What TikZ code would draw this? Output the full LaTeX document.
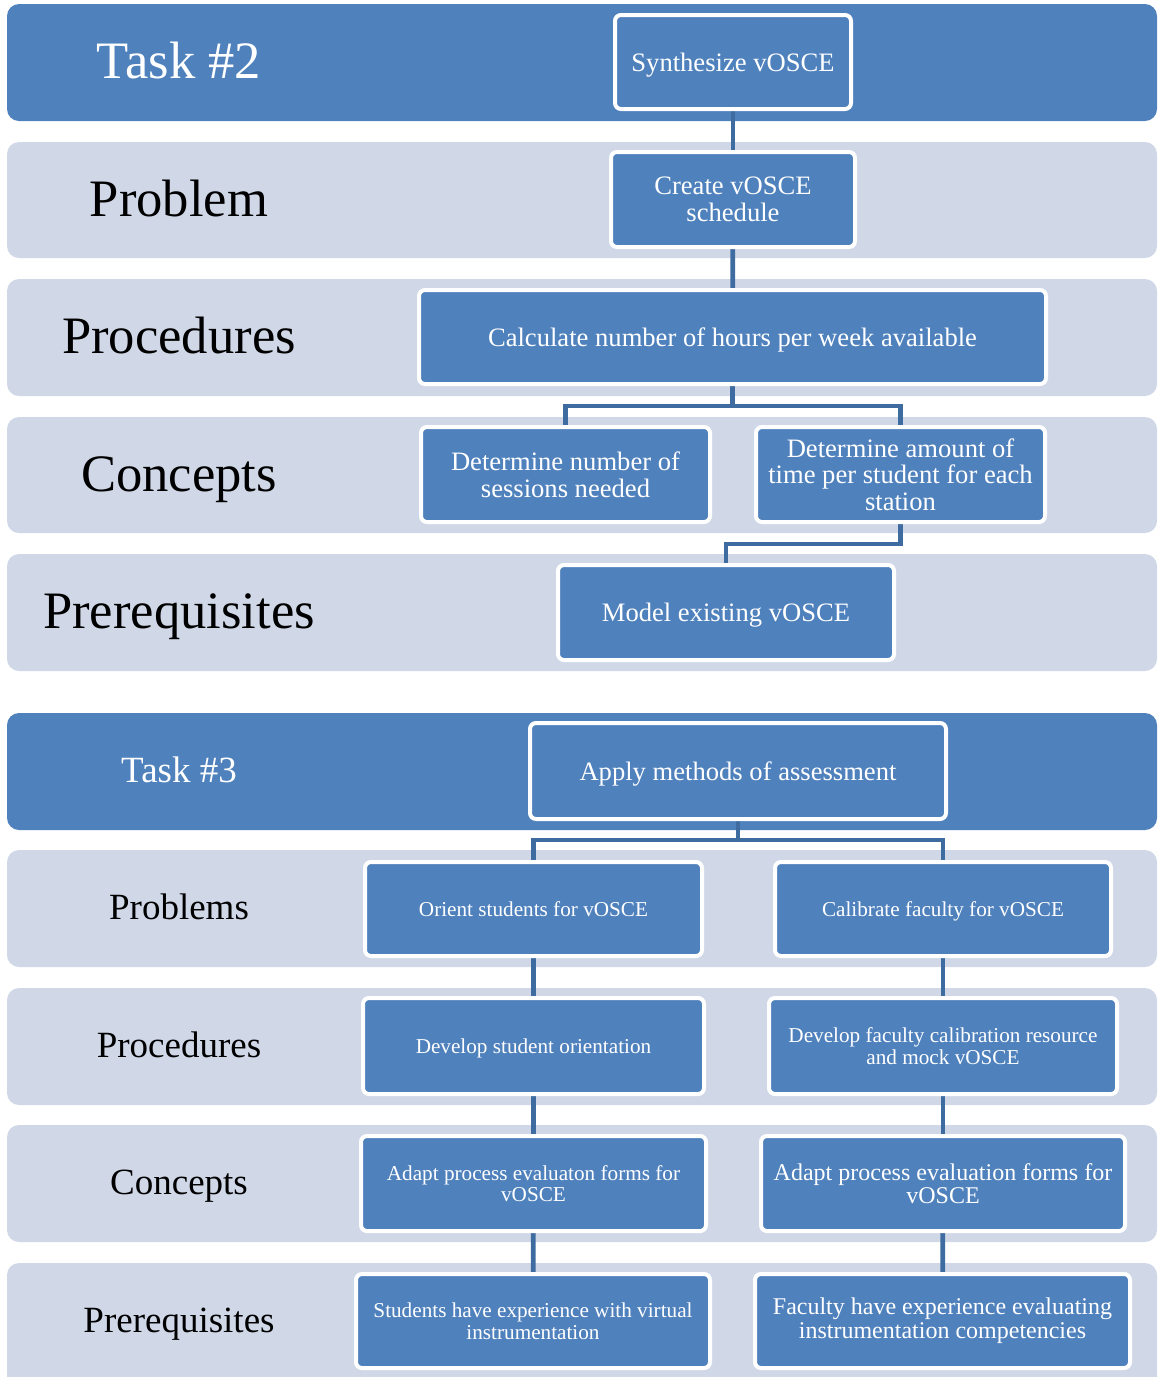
\documentclass[tikz,border=0pt]{standalone}
\usepackage{fontspec}
\setmainfont{Liberation Serif}
\usetikzlibrary{calc}
\definecolor{bandblue}{RGB}{79,129,189}
\definecolor{bandpale}{RGB}{208,216,232}
\definecolor{linkblue}{RGB}{62,108,160}
\pgfdeclarelayer{bands}
\pgfdeclarelayer{links}
\pgfsetlayers{bands,links,main}
\begin{document}
\begin{tikzpicture}[x=0.5pt,y=-0.5pt,
  box/.style={draw=white, line width=2pt, fill=bandblue, rounded corners=3pt,
    text=white, align=center, inner sep=0pt},
  oneline/.style={text depth=0pt},
  fbig/.style={font=\fontsize{13.3}{13.3}\selectfont},
  fmid/.style={font=\fontsize{12}{11.8}\selectfont},
  fsmall/.style={font=\fontsize{10.6}{10.8}\selectfont},
  head/.style={fill=bandblue, rounded corners=6pt},
  row/.style={fill=bandpale, rounded corners=6pt},
  bigtag/.style={anchor=base, font=\fontsize{26.3}{26.3}\selectfont},
  smalltag/.style={anchor=base, font=\fontsize{18.5}{18.5}\selectfont},
  link/.style={draw=linkblue, line width=2.4pt}]

\clip (0,0) rectangle (1158,1377);

% ---- horizontal bands ----
\begin{pgfonlayer}{bands}
  \path[head] (7,4)    rectangle (1157,121);
  \path[row]  (7,142)  rectangle (1157,258);
  \path[row]  (7,279)  rectangle (1157,396);
  \path[row]  (7,417)  rectangle (1157,533);
  \path[row]  (7,554)  rectangle (1157,671);
  \path[head] (7,713)  rectangle (1157,830);
  \path[row]  (7,850)  rectangle (1157,967);
  \path[row]  (7,988)  rectangle (1157,1105);
  \path[row]  (7,1125) rectangle (1157,1242);
  \path[row]  (7,1263) rectangle (1157,1392);
\end{pgfonlayer}

% ---- band titles (placed on their baselines) ----
\node[bigtag, text=white] (t2)    at (179,78)  {Task \#2};
\node[bigtag] (t2prob)  at (179,216) {Problem};
\node[bigtag] (t2proc)  at (179,353) {Procedures};
\node[bigtag] (t2conc)  at (179,491) {Concepts};
\node[bigtag] (t2pre)   at (179,628) {Prerequisites};
\node[smalltag, text=white] (t3) at (179,782) {Task \#3};
\node[smalltag] (t3prob) at (179,919)  {Problems};
\node[smalltag] (t3proc) at (179,1057) {Procedures};
\node[smalltag] (t3conc) at (179,1194) {Concepts};
\node[smalltag] (t3pre)  at (179,1332) {Prerequisites};

% ---- Task #2 tree ----
\node[box, fbig, oneline, minimum width=118pt,   minimum height=47pt]   (synth)  at (733,62)    {Synthesize vOSCE};
\node[box, fbig, minimum width=122pt,   minimum height=47.5pt] (sched)  at (733,199.5) {Create vOSCE\\schedule};
\node[box, fbig, oneline, minimum width=313.5pt, minimum height=47pt]   (hours)  at (732.5,337) {Calculate number of hours per week available};
\node[box, fbig, minimum width=144.5pt, minimum height=47.5pt] (sess)   at (565.5,474.5) {Determine number of\\sessions needed};
\node[box, fbig, minimum width=144.5pt, minimum height=47.5pt] (time)   at (900.5,474.5) {Determine amount of\\time per student for each\\station};
\node[box, fbig, oneline, minimum width=168pt,   minimum height=47.5pt] (model)  at (726,612.5) {Model existing vOSCE};

% ---- Task #3 tree ----
\node[box, fbig,   oneline, minimum width=208pt,   minimum height=48pt]   (assess) at (738,771)    {Apply methods of assessment};
\node[box, fsmall, oneline, minimum width=168.5pt, minimum height=47pt]   (orient) at (533.5,909)  {Orient students for vOSCE};
\node[box, fsmall, oneline, minimum width=168pt,   minimum height=47pt]   (calib)  at (943,909)    {Calibrate faculty for vOSCE};
\node[box, fsmall, oneline, minimum width=170.5pt, minimum height=48pt]   (devst)  at (533.5,1046) {Develop student orientation};
\node[box, fsmall, minimum width=174pt,   minimum height=48pt]   (devfac) at (943,1046)   {Develop faculty calibration resource\\and mock vOSCE};
\node[box, fsmall, minimum width=172.5pt, minimum height=47.5pt] (formsL) at (533.5,1183.5) {Adapt process evaluaton forms for\\vOSCE};
\node[box, fmid,   minimum width=182pt,   minimum height=47.5pt] (formsR) at (943,1183.5) {Adapt process evaluation forms for\\vOSCE};
\node[box, fsmall, minimum width=177pt,   minimum height=47pt]   (stexp)  at (533,1321)   {Students have experience with virtual\\instrumentation};
\node[box, fmid,   minimum width=187.5pt, minimum height=47pt]   (facexp) at (942.5,1321) {Faculty have experience evaluating\\instrumentation competencies};

% ---- connectors ----
\begin{pgfonlayer}{links}
  \draw[link] (synth) -- (sched);
  \draw[link] (sched) -- (hours);
  \coordinate (split2) at (732.5,406);
  \draw[link] (hours.south) -- (split2);
  \draw[link] (sess.north) |- (split2) -| (time.north);
  \draw[link] (time.south) -- ++(0,20) -| (model.north);

  \coordinate (split3) at (738,840);
  \draw[link] (assess.south) -- (split3);
  \draw[link] (orient.north) |- (split3) -| (calib.north);
  \draw[link] (orient) -- (devst);
  \draw[link] (devst) -- (formsL);
  \draw[link] (formsL) -- (stexp);
  \draw[link] (calib) -- (devfac);
  \draw[link] (devfac) -- (formsR);
  \draw[link] (formsR) -- (facexp);
\end{pgfonlayer}
\end{tikzpicture}
\end{document}
